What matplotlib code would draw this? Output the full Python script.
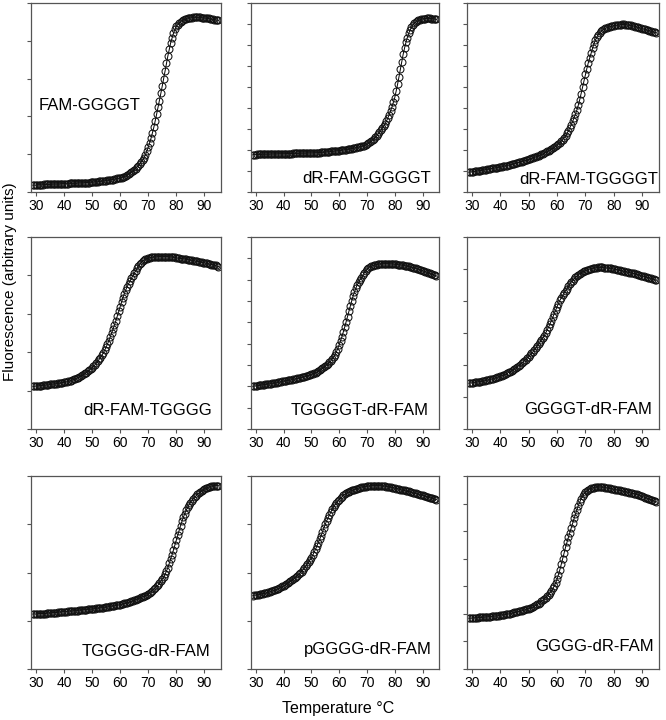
"""
Melting curves of the nine FAM-labelled G-quadruplex constructs,
one panel each, fluorescence (arbitrary units) against temperature.
Saves out.png (666 x 720 px).
"""
import numpy as np
import matplotlib
matplotlib.use("Agg")
import matplotlib.pyplot as plt

plt.rcParams["font.family"] = ["Liberation Sans", "DejaVu Sans"]

# readings every 0.5 degC from 29 to 95
temp = np.arange(29.0, 95.01, 0.5)

# fluorescence, in units of one y tick step of each panel
fam_ggggt = [
    0.18, 0.18, 0.18, 0.19, 0.19, 0.19, 0.19, 0.19, 0.20, 0.20,
    0.20, 0.20, 0.20, 0.20, 0.21, 0.21, 0.21, 0.21, 0.21, 0.21,
    0.22, 0.22, 0.22, 0.22, 0.22, 0.22, 0.23, 0.23, 0.23, 0.23,
    0.23, 0.23, 0.24, 0.24, 0.24, 0.24, 0.24, 0.25, 0.25, 0.25,
    0.25, 0.26, 0.26, 0.26, 0.27, 0.27, 0.27, 0.28, 0.28, 0.29,
    0.29, 0.30, 0.30, 0.31, 0.31, 0.32, 0.33, 0.33, 0.34, 0.35,
    0.36, 0.36, 0.37, 0.38, 0.40, 0.41, 0.43, 0.45, 0.47, 0.50,
    0.53, 0.55, 0.58, 0.62, 0.66, 0.70, 0.75, 0.79, 0.84, 0.91,
    0.98, 1.08, 1.18, 1.30, 1.42, 1.56, 1.71, 1.88, 2.06, 2.24,
    2.42, 2.61, 2.80, 3.00, 3.20, 3.40, 3.60, 3.78, 3.95, 4.08,
    4.20, 4.30, 4.38, 4.43, 4.47, 4.50, 4.53, 4.55, 4.57, 4.58,
    4.60, 4.60, 4.61, 4.61, 4.62, 4.62, 4.62, 4.62, 4.62, 4.62,
    4.61, 4.61, 4.60, 4.60, 4.59, 4.59, 4.58, 4.57, 4.57, 4.56,
    4.55, 4.55, 4.54]

drfam_ggggt = [
    1.78, 1.78, 1.78, 1.79, 1.79, 1.79, 1.79, 1.80, 1.80, 1.80,
    1.80, 1.80, 1.80, 1.81, 1.81, 1.81, 1.81, 1.81, 1.82, 1.82,
    1.82, 1.82, 1.82, 1.82, 1.83, 1.83, 1.83, 1.83, 1.83, 1.84,
    1.84, 1.84, 1.84, 1.84, 1.85, 1.85, 1.85, 1.85, 1.85, 1.86,
    1.86, 1.86, 1.86, 1.86, 1.87, 1.87, 1.87, 1.88, 1.88, 1.89,
    1.89, 1.89, 1.90, 1.91, 1.91, 1.92, 1.93, 1.93, 1.94, 1.95,
    1.96, 1.96, 1.97, 1.98, 1.99, 2.00, 2.01, 2.02, 2.03, 2.04,
    2.06, 2.07, 2.08, 2.10, 2.11, 2.13, 2.14, 2.16, 2.17, 2.19,
    2.21, 2.24, 2.27, 2.31, 2.36, 2.41, 2.47, 2.53, 2.60, 2.68,
    2.76, 2.84, 2.93, 3.03, 3.13, 3.25, 3.37, 3.52, 3.68, 3.86,
    4.05, 4.27, 4.50, 4.80, 5.12, 5.48, 5.85, 6.21, 6.55, 6.85,
    7.12, 7.35, 7.55, 7.71, 7.85, 7.95, 8.03, 8.08, 8.13, 8.17,
    8.20, 8.22, 8.24, 8.25, 8.26, 8.27, 8.27, 8.27, 8.26, 8.26,
    8.24, 8.23, 8.22]

drfam_tggggt = [
    0.94, 0.95, 0.96, 0.97, 0.98, 0.99, 1.00, 1.01, 1.02, 1.03,
    1.05, 1.06, 1.07, 1.08, 1.09, 1.10, 1.12, 1.13, 1.14, 1.15,
    1.16, 1.18, 1.19, 1.20, 1.22, 1.23, 1.25, 1.26, 1.28, 1.29,
    1.31, 1.33, 1.35, 1.37, 1.39, 1.41, 1.43, 1.45, 1.47, 1.49,
    1.51, 1.53, 1.55, 1.57, 1.60, 1.62, 1.65, 1.67, 1.70, 1.73,
    1.76, 1.79, 1.82, 1.85, 1.89, 1.93, 1.97, 2.01, 2.05, 2.08,
    2.12, 2.17, 2.22, 2.28, 2.35, 2.42, 2.50, 2.59, 2.68, 2.79,
    2.92, 3.05, 3.20, 3.36, 3.53, 3.71, 3.91, 4.14, 4.40, 4.69,
    5.00, 5.30, 5.60, 5.88, 6.15, 6.38, 6.60, 6.84, 7.05, 7.23,
    7.38, 7.49, 7.58, 7.65, 7.70, 7.75, 7.79, 7.82, 7.85, 7.87,
    7.89, 7.90, 7.92, 7.93, 7.94, 7.95, 7.96, 7.97, 7.98, 7.98,
    7.97, 7.96, 7.95, 7.94, 7.93, 7.91, 7.90, 7.88, 7.86, 7.84,
    7.82, 7.80, 7.78, 7.76, 7.74, 7.72, 7.70, 7.68, 7.66, 7.64,
    7.62, 7.60, 7.58]

drfam_tgggg = [
    1.11, 1.11, 1.12, 1.12, 1.12, 1.13, 1.13, 1.14, 1.14, 1.14,
    1.15, 1.15, 1.16, 1.16, 1.17, 1.17, 1.18, 1.18, 1.19, 1.19,
    1.20, 1.21, 1.22, 1.22, 1.23, 1.24, 1.25, 1.26, 1.28, 1.29,
    1.31, 1.32, 1.34, 1.36, 1.38, 1.40, 1.42, 1.45, 1.47, 1.50,
    1.53, 1.56, 1.59, 1.63, 1.67, 1.71, 1.76, 1.81, 1.86, 1.92,
    1.98, 2.05, 2.13, 2.21, 2.30, 2.40, 2.50, 2.60, 2.71, 2.82,
    2.94, 3.06, 3.18, 3.30, 3.42, 3.52, 3.62, 3.70, 3.78, 3.85,
    3.92, 3.99, 4.05, 4.12, 4.18, 4.24, 4.29, 4.33, 4.37, 4.40,
    4.42, 4.44, 4.45, 4.46, 4.47, 4.47, 4.48, 4.48, 4.48, 4.49,
    4.49, 4.49, 4.49, 4.49, 4.49, 4.49, 4.49, 4.48, 4.48, 4.48,
    4.47, 4.47, 4.46, 4.45, 4.45, 4.44, 4.44, 4.43, 4.43, 4.42,
    4.41, 4.41, 4.40, 4.39, 4.38, 4.38, 4.37, 4.37, 4.36, 4.35,
    4.34, 4.33, 4.33, 4.32, 4.31, 4.30, 4.29, 4.28, 4.28, 4.27,
    4.26, 4.24, 4.23]

tggggt_drfam = [
    2.00, 2.01, 2.02, 2.03, 2.04, 2.05, 2.06, 2.07, 2.08, 2.09,
    2.10, 2.11, 2.12, 2.13, 2.14, 2.15, 2.16, 2.17, 2.19, 2.20,
    2.21, 2.23, 2.24, 2.25, 2.27, 2.28, 2.29, 2.30, 2.32, 2.33,
    2.34, 2.36, 2.37, 2.38, 2.40, 2.42, 2.43, 2.45, 2.47, 2.49,
    2.51, 2.54, 2.56, 2.59, 2.62, 2.64, 2.67, 2.71, 2.75, 2.80,
    2.84, 2.89, 2.94, 3.00, 3.06, 3.13, 3.20, 3.28, 3.37, 3.49,
    3.62, 3.77, 3.94, 4.13, 4.33, 4.55, 4.78, 5.02, 5.27, 5.52,
    5.77, 6.00, 6.23, 6.42, 6.60, 6.75, 6.88, 7.00, 7.10, 7.21,
    7.32, 7.41, 7.49, 7.55, 7.60, 7.63, 7.66, 7.68, 7.70, 7.71,
    7.72, 7.73, 7.74, 7.74, 7.75, 7.75, 7.75, 7.75, 7.74, 7.74,
    7.74, 7.73, 7.72, 7.72, 7.71, 7.70, 7.69, 7.68, 7.67, 7.66,
    7.65, 7.63, 7.62, 7.60, 7.58, 7.57, 7.55, 7.53, 7.51, 7.49,
    7.47, 7.44, 7.42, 7.40, 7.37, 7.35, 7.32, 7.30, 7.27, 7.25,
    7.22, 7.20, 7.17]

ggggt_drfam = [
    1.43, 1.44, 1.44, 1.45, 1.46, 1.46, 1.47, 1.48, 1.48, 1.49,
    1.50, 1.51, 1.52, 1.53, 1.54, 1.55, 1.56, 1.57, 1.59, 1.60,
    1.62, 1.63, 1.65, 1.67, 1.68, 1.70, 1.72, 1.74, 1.77, 1.79,
    1.82, 1.85, 1.88, 1.91, 1.94, 1.98, 2.01, 2.05, 2.09, 2.13,
    2.17, 2.22, 2.26, 2.31, 2.36, 2.41, 2.47, 2.53, 2.59, 2.65,
    2.71, 2.78, 2.85, 2.92, 3.00, 3.09, 3.18, 3.28, 3.38, 3.49,
    3.60, 3.71, 3.82, 3.92, 4.02, 4.10, 4.18, 4.25, 4.32, 4.39,
    4.46, 4.53, 4.59, 4.64, 4.69, 4.74, 4.78, 4.82, 4.85, 4.88,
    4.91, 4.93, 4.95, 4.97, 4.98, 5.00, 5.01, 5.02, 5.03, 5.04,
    5.04, 5.05, 5.05, 5.05, 5.05, 5.04, 5.04, 5.03, 5.03, 5.02,
    5.02, 5.01, 5.00, 4.99, 4.98, 4.97, 4.96, 4.95, 4.94, 4.93,
    4.92, 4.91, 4.90, 4.89, 4.88, 4.87, 4.86, 4.85, 4.83, 4.82,
    4.81, 4.79, 4.78, 4.77, 4.76, 4.74, 4.73, 4.72, 4.71, 4.69,
    4.68, 4.66, 4.65]

tgggg_drfam = [
    1.14, 1.14, 1.14, 1.14, 1.15, 1.15, 1.15, 1.15, 1.15, 1.15,
    1.16, 1.16, 1.16, 1.16, 1.17, 1.17, 1.17, 1.17, 1.18, 1.18,
    1.18, 1.19, 1.19, 1.19, 1.19, 1.20, 1.20, 1.20, 1.20, 1.21,
    1.21, 1.21, 1.21, 1.22, 1.22, 1.22, 1.23, 1.23, 1.23, 1.24,
    1.24, 1.24, 1.24, 1.25, 1.25, 1.26, 1.26, 1.26, 1.27, 1.27,
    1.27, 1.28, 1.28, 1.29, 1.29, 1.30, 1.30, 1.31, 1.31, 1.32,
    1.32, 1.33, 1.33, 1.34, 1.35, 1.36, 1.36, 1.37, 1.38, 1.39,
    1.40, 1.41, 1.42, 1.44, 1.45, 1.46, 1.48, 1.49, 1.50, 1.51,
    1.52, 1.54, 1.56, 1.58, 1.60, 1.62, 1.65, 1.68, 1.71, 1.74,
    1.78, 1.82, 1.86, 1.91, 1.96, 2.03, 2.10, 2.19, 2.28, 2.37,
    2.47, 2.57, 2.67, 2.77, 2.87, 2.97, 3.06, 3.14, 3.22, 3.29,
    3.35, 3.40, 3.45, 3.49, 3.53, 3.56, 3.59, 3.62, 3.64, 3.67,
    3.69, 3.71, 3.73, 3.75, 3.76, 3.77, 3.78, 3.79, 3.79, 3.80,
    3.80, 3.80, 3.80]

pgggg_drfam = [
    1.52, 1.53, 1.53, 1.54, 1.54, 1.55, 1.56, 1.56, 1.57, 1.57,
    1.58, 1.59, 1.60, 1.61, 1.62, 1.63, 1.64, 1.65, 1.66, 1.68,
    1.69, 1.71, 1.72, 1.74, 1.76, 1.78, 1.80, 1.82, 1.84, 1.86,
    1.88, 1.91, 1.93, 1.96, 1.99, 2.02, 2.06, 2.09, 2.13, 2.17,
    2.21, 2.26, 2.31, 2.36, 2.42, 2.48, 2.55, 2.62, 2.69, 2.76,
    2.84, 2.92, 3.00, 3.07, 3.13, 3.19, 3.25, 3.31, 3.36, 3.40,
    3.44, 3.48, 3.51, 3.54, 3.57, 3.60, 3.62, 3.64, 3.66, 3.67,
    3.69, 3.70, 3.71, 3.72, 3.73, 3.74, 3.75, 3.76, 3.77, 3.77,
    3.78, 3.78, 3.79, 3.79, 3.79, 3.80, 3.80, 3.80, 3.80, 3.80,
    3.80, 3.80, 3.80, 3.79, 3.79, 3.79, 3.78, 3.78, 3.77, 3.77,
    3.76, 3.76, 3.75, 3.74, 3.74, 3.73, 3.72, 3.71, 3.71, 3.70,
    3.69, 3.68, 3.68, 3.67, 3.66, 3.65, 3.64, 3.64, 3.63, 3.62,
    3.61, 3.61, 3.60, 3.59, 3.58, 3.57, 3.56, 3.55, 3.55, 3.54,
    3.53, 3.52, 3.51]

gggg_drfam = [
    1.84, 1.84, 1.85, 1.85, 1.86, 1.86, 1.86, 1.87, 1.87, 1.87,
    1.88, 1.88, 1.89, 1.89, 1.90, 1.90, 1.91, 1.91, 1.92, 1.92,
    1.93, 1.94, 1.95, 1.96, 1.96, 1.97, 1.98, 1.99, 2.00, 2.01,
    2.02, 2.04, 2.05, 2.06, 2.07, 2.09, 2.10, 2.11, 2.13, 2.14,
    2.16, 2.18, 2.19, 2.21, 2.23, 2.25, 2.28, 2.31, 2.34, 2.37,
    2.41, 2.45, 2.49, 2.54, 2.59, 2.64, 2.70, 2.77, 2.84, 2.92,
    3.01, 3.12, 3.25, 3.42, 3.60, 3.80, 4.00, 4.21, 4.42, 4.60,
    4.78, 4.95, 5.12, 5.29, 5.46, 5.62, 5.78, 5.93, 6.06, 6.18,
    6.28, 6.36, 6.42, 6.47, 6.50, 6.53, 6.55, 6.57, 6.58, 6.59,
    6.60, 6.60, 6.60, 6.60, 6.59, 6.59, 6.58, 6.57, 6.56, 6.55,
    6.54, 6.53, 6.52, 6.51, 6.50, 6.49, 6.48, 6.47, 6.46, 6.44,
    6.43, 6.42, 6.41, 6.40, 6.38, 6.37, 6.36, 6.35, 6.33, 6.32,
    6.30, 6.28, 6.26, 6.24, 6.22, 6.20, 6.18, 6.16, 6.14, 6.12,
    6.10, 6.08, 6.06]

names = ["FAM-GGGGT", "dR-FAM-GGGGT", "dR-FAM-TGGGGT",
         "dR-FAM-TGGGG", "TGGGGT-dR-FAM", "GGGGT-dR-FAM",
         "TGGGG-dR-FAM", "pGGGG-dR-FAM", "GGGG-dR-FAM"]
curves = [fam_ggggt, drfam_ggggt, drfam_tggggt,
          drfam_tgggg, tggggt_drfam, ggggt_drfam,
          tgggg_drfam, pgggg_drfam, gggg_drfam]
ytop = [5, 9, 9, 5, 9, 6, 4, 4, 7]     # number of y tick steps per panel
xticks = [30, 40, 50, 60, 70, 80, 90]

# ---- layout (pixels in a 666 x 720 canvas) ----
W, H = 666, 720
col_x = [31, 251, 467]
col_w = [190, 188, 192]
row_y = [3, 237, 476]
row_h = [189, 192, 193]
# where each name sits, axes fraction (x, y, ha)
lab_pos = [(0.04, 0.46, "left"), (0.958, 0.07, "right"), (0.995, 0.065, "right"),
           (0.953, 0.095, "right"), (0.947, 0.095, "right"), (0.963, 0.10, "right"),
           (0.942, 0.09, "right"), (0.963, 0.10, "right"), (0.974, 0.115, "right")]
SPINE = "#555555"

fig = plt.figure(figsize=(W / 100, H / 100), dpi=100)
for i, (name, y) in enumerate(zip(names, curves)):
    r, c = divmod(i, 3)
    ax = fig.add_axes([col_x[c] / W, 1 - (row_y[r] + row_h[r]) / H,
                       col_w[c] / W, row_h[r] / H])
    ax.plot(temp, y, "-", color="black", lw=0.7,
            marker="o", ms=5.0, mfc="none", mec="#111111", mew=0.75)
    ax.set_xlim(28.3, 95.9)
    ax.set_ylim(0, ytop[i])
    ax.set_xticks(xticks)
    ax.set_yticks(range(ytop[i] + 1))
    ax.set_yticklabels([])
    ax.tick_params(axis="both", direction="out", length=3, width=0.8,
                   colors=SPINE, labelcolor="black", labelsize=10, pad=2)
    for s in ax.spines.values():
        s.set_color(SPINE)
        s.set_linewidth(0.9)
    lx, ly, ha = lab_pos[i]
    ax.text(lx, ly, name, transform=ax.transAxes, ha=ha, va="center",
            fontsize=12)

fig.text(338 / W, 1 - 708 / H, "Temperature °C", ha="center", va="center",
         fontsize=11.5)
fig.text(10 / W, 1 - 282 / H, "Fluorescence (arbitrary units)", ha="center",
         va="center", rotation=90, fontsize=11)

fig.savefig("out.png", dpi=100)
